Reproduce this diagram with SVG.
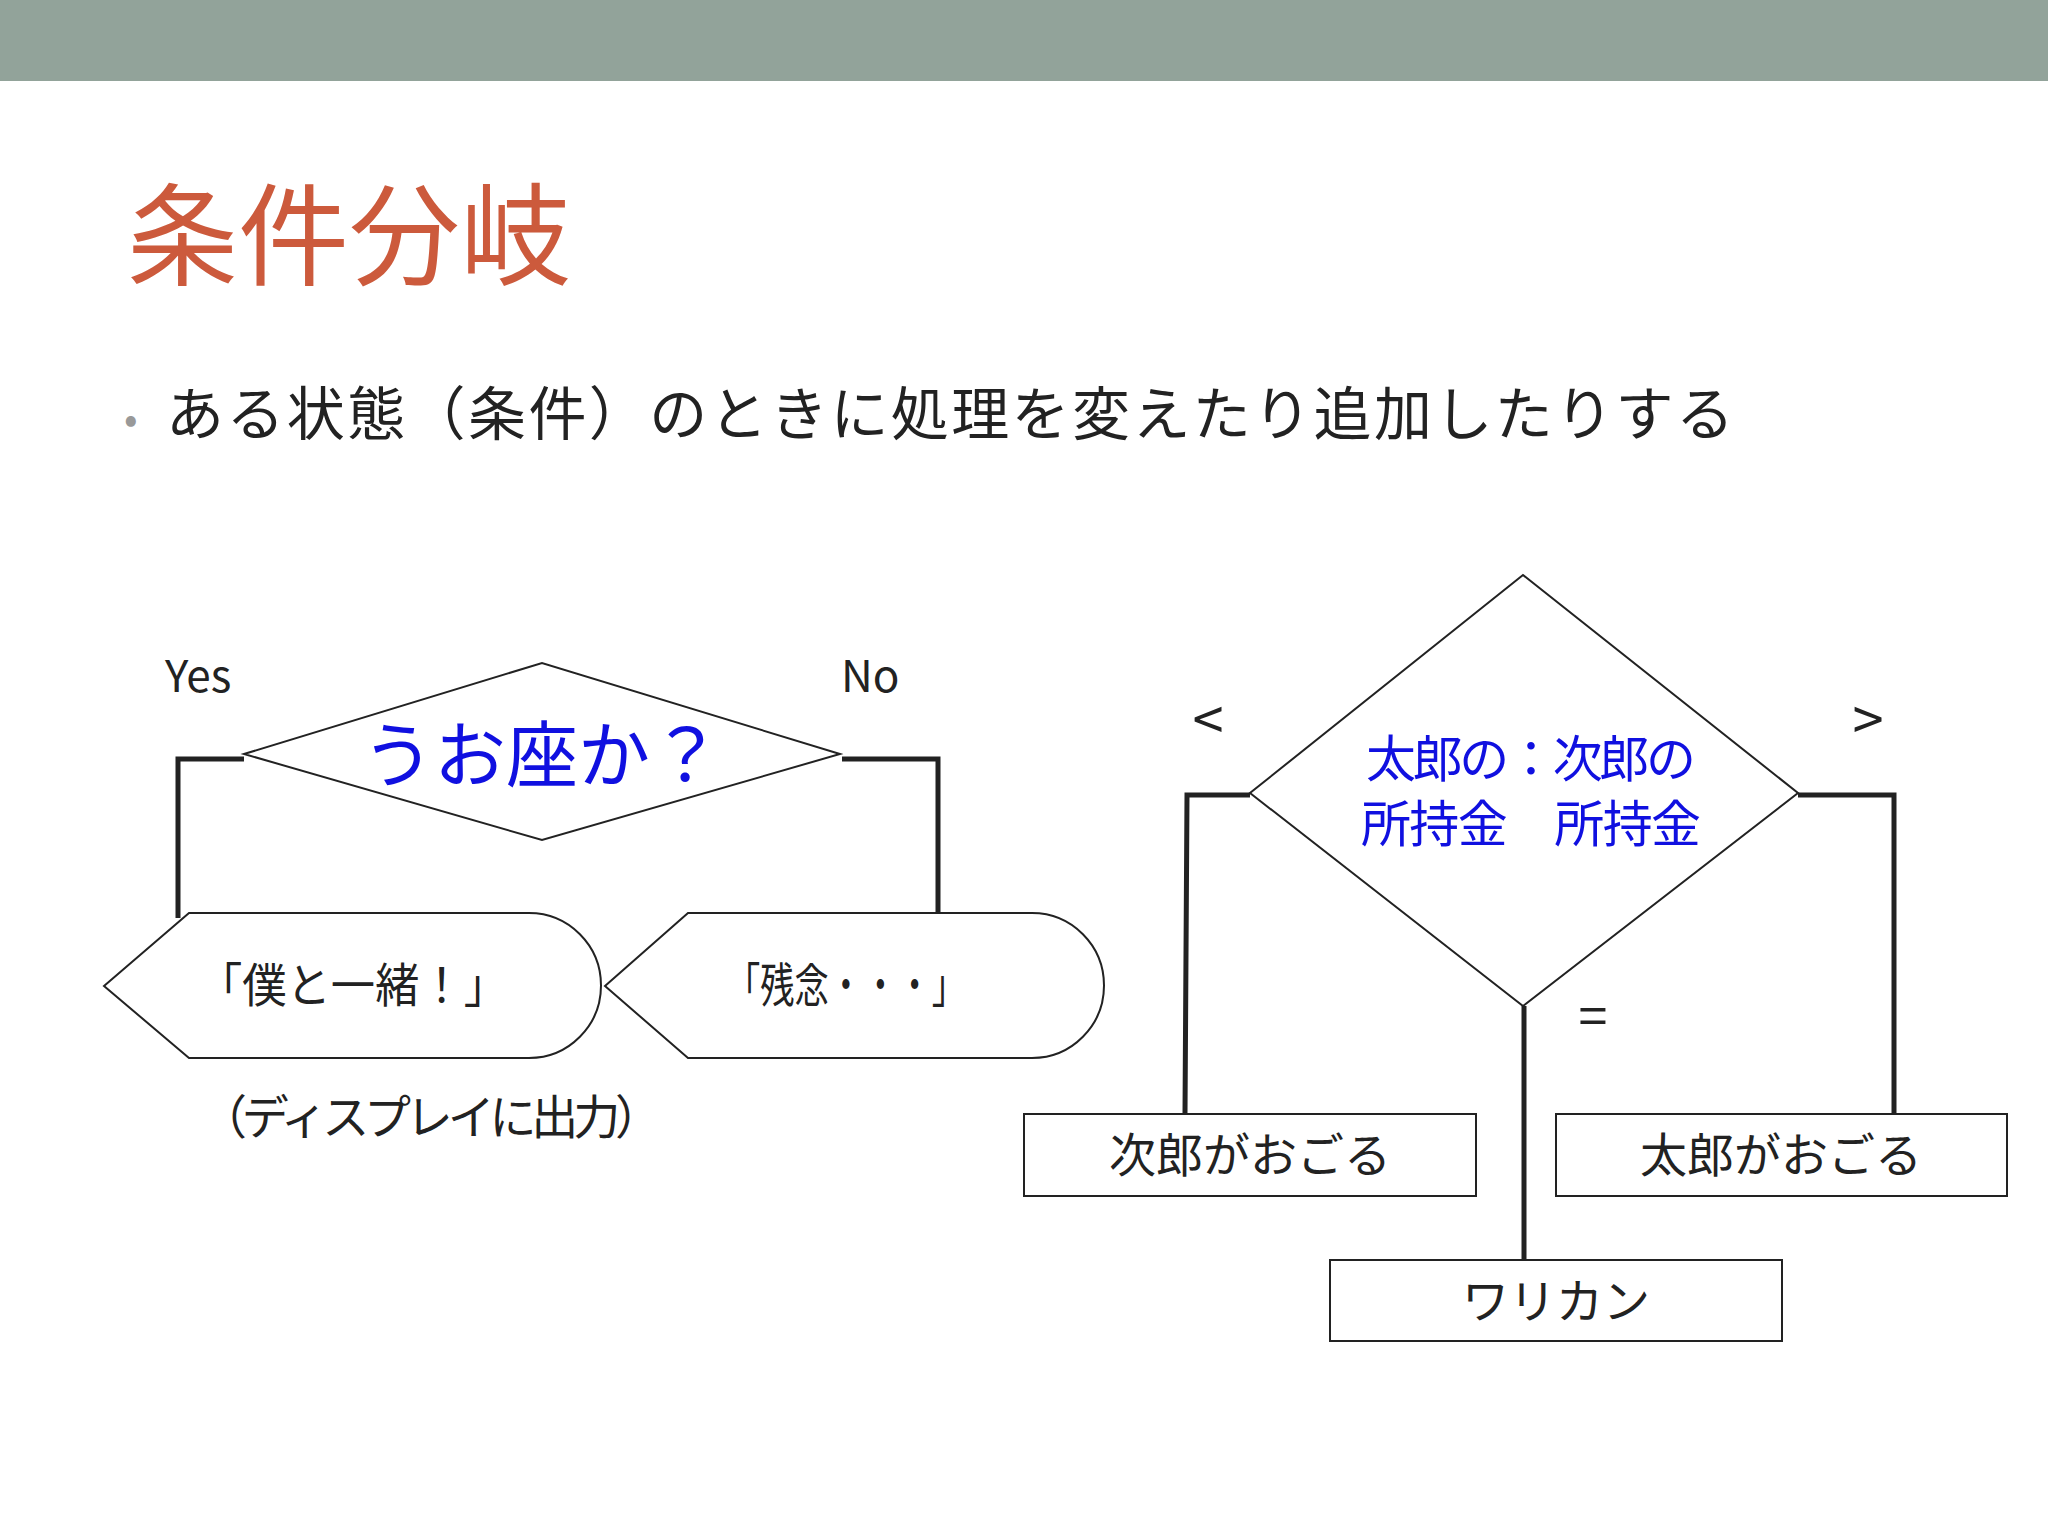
<svg xmlns="http://www.w3.org/2000/svg" width="2048" height="1536" viewBox="0 0 2048 1536">
<style>
text{font-family:"Noto Sans CJK JP","Liberation Sans",sans-serif;fill:#222}
.s{fill:#fff;stroke:#222;stroke-width:2}
.c{fill:none;stroke:#222;stroke-width:5}
.b{fill:#1010e0}
.m{text-anchor:middle}
</style>
<rect width="2048" height="1536" fill="#fff"/>
<rect width="2048" height="81" fill="#92a39a"/>
<text x="127" y="277" font-size="111" style="fill:#cc5a3c">条件分岐</text>
<text x="124" y="433" font-size="40" style="fill:#999">•</text>
<text x="166" y="435" font-size="58" textLength="1568">ある状態（条件）のときに処理を変えたり追加したりする</text>
<g id="connectors">
<polyline class="c" points="244,759 178,759 178,918"/>
<polyline class="c" points="842,759 938,759 938,912"/>
<polyline class="c" points="1250,795 1187,795 1185,1114"/>
<polyline class="c" points="1798,795 1894,795 1894,1114"/>
<line class="c" x1="1524" y1="1006" x2="1524" y2="1260"/>
</g>
<g id="cond1"><polygon class="s" points="244,754 542,663 840,754 542,840"/><text class="b m" x="542" y="781" font-size="72">うお座か？</text></g>
<text x="165" y="692" font-size="44" font-family="Liberation Sans">Yes</text>
<text x="841" y="692" font-size="44" font-family="Liberation Sans">No</text>
<g id="out1"><path class="s" d="M104,986 L189,913 L529,913 A72,72.5 0 0 1 529,1058 L189,1058 Z"/><text class="m" x="353" y="1002" font-size="47" textLength="310" lengthAdjust="spacingAndGlyphs">「僕と一緒！」</text></g>
<g id="out2"><path class="s" d="M605,986 L688,913 L1032,913 A72,72.5 0 0 1 1032,1058 L688,1058 Z"/><text class="m" x="846" y="1002" font-size="47" textLength="240" lengthAdjust="spacingAndGlyphs">「残念・・・」</text></g>
<text x="200" y="1134" font-size="47" textLength="462">（ディスプレイに出力）</text>
<g id="cond2"><polygon class="s" points="1523,575 1798,793 1523,1006 1250,793"/>
<text class="b m" x="1531" y="777" font-size="50" textLength="330">太郎の：次郎の</text>
<text class="b m" x="1531" y="842" font-size="50" textLength="340">所持金　所持金</text></g>
<text class="m" x="1208" y="740" font-size="56">&lt;</text>
<text class="m" x="1868" y="740" font-size="56">&gt;</text>
<text class="m" x="1593" y="1035" font-size="52">=</text>
<g id="box1"><rect class="s" x="1024" y="1114" width="452" height="82"/><text class="m" x="1250" y="1172" font-size="47">次郎がおごる</text></g>
<g id="box2"><rect class="s" x="1556" y="1114" width="451" height="82"/><text class="m" x="1781" y="1172" font-size="47">太郎がおごる</text></g>
<g id="box3"><rect class="s" x="1330" y="1260" width="452" height="81"/><text class="m" x="1556" y="1318" font-size="47">ワリカン</text></g>
</svg>
